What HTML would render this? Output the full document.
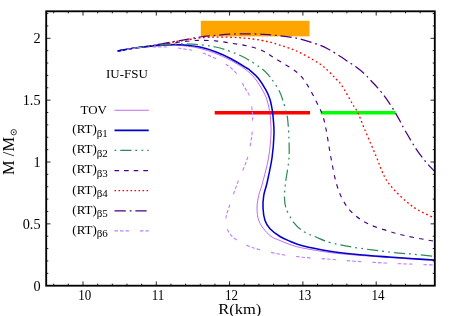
<!DOCTYPE html>
<html><head><meta charset="utf-8"><title>M-R</title>
<style>
html,body{margin:0;padding:0;background:#fff;}
body{width:452px;height:316px;overflow:hidden;}
svg{display:block;font-family:"Liberation Serif",serif;will-change:transform;opacity:0.999;}
.t{font-size:13px;fill:#000;}
.a{font-size:16.5px;fill:#000;}
</style></head><body>
<svg width="452" height="316" viewBox="0 0 452 316">
<rect width="452" height="316" fill="#fff"/>
<rect x="200.8" y="20.8" width="108.7" height="15.6" fill="#ffa500"/>
<path d="M214.7,112.75 H310" stroke="#ff0000" stroke-width="3.3" fill="none"/>
<path d="M320.75,112.75 H395.25" stroke="#00ff00" stroke-width="3.3" fill="none"/>
<clipPath id="c"><rect x="46.2" y="11.3" width="388.6" height="274.4"/></clipPath>
<g clip-path="url(#c)">
<path d="M117.50,51.00 C120.42,50.50 129.58,48.82 135.00,48.00 C140.42,47.18 144.17,46.90 150.00,46.10 C155.83,45.30 163.33,44.05 170.00,43.20 C176.67,42.35 185.00,41.48 190.00,41.00 C195.00,40.52 195.75,40.32 200.00,40.30 C204.25,40.28 210.33,40.42 215.50,40.90 C220.67,41.38 225.82,42.38 231.00,43.20 C236.18,44.02 241.43,44.58 246.60,45.80 C251.77,47.02 257.43,48.52 262.00,50.50 C266.57,52.48 268.25,54.12 274.00,57.70 C279.75,61.28 290.90,67.38 296.50,72.00 C302.10,76.62 304.10,80.07 307.60,85.40 C311.10,90.73 315.02,99.07 317.50,104.00 C319.98,108.93 321.08,110.83 322.50,115.00 C323.92,119.17 324.58,121.83 326.00,129.00 C327.42,136.17 329.29,149.00 331.00,158.00 C332.71,167.00 334.33,176.12 336.25,183.00 C338.17,189.88 339.88,194.33 342.50,199.25 C345.12,204.17 347.75,208.41 352.00,212.50 C356.25,216.59 361.83,220.68 368.00,223.80 C374.17,226.93 382.58,229.22 389.00,231.25 C395.42,233.28 398.92,234.33 406.50,236.00 C414.08,237.67 429.83,240.38 434.50,241.25" stroke="#4b0082" stroke-width="1.15" fill="none" stroke-dasharray="4.4,5.2" stroke-dashoffset="8.52"/>
<path d="M117.50,51.00 C120.42,50.50 129.58,48.83 135.00,48.00 C140.42,47.17 144.17,46.92 150.00,46.00 C155.83,45.08 163.33,43.58 170.00,42.50 C176.67,41.42 185.00,40.27 190.00,39.50 C195.00,38.73 195.75,38.30 200.00,37.90 C204.25,37.50 210.33,37.20 215.50,37.10 C220.67,37.00 225.82,37.10 231.00,37.30 C236.18,37.50 241.43,37.77 246.60,38.30 C251.77,38.83 257.43,39.67 262.00,40.50 C266.57,41.33 268.25,41.55 274.00,43.30 C279.75,45.05 289.05,47.68 296.50,51.00 C303.95,54.32 313.33,59.80 318.70,63.20 C324.07,66.60 325.82,68.77 328.70,71.40 C331.58,74.03 333.87,76.73 336.00,79.00 C338.13,81.27 338.75,80.83 341.50,85.00 C344.25,89.17 349.75,99.33 352.50,104.00 C355.25,108.67 356.00,108.83 358.00,113.00 C360.00,117.17 361.50,121.83 364.50,129.00 C367.50,136.17 372.67,148.04 376.00,156.00 C379.33,163.96 381.58,171.25 384.50,176.75 C387.42,182.25 389.83,184.83 393.50,189.00 C397.17,193.17 402.25,198.17 406.50,201.75 C410.75,205.33 414.33,207.79 419.00,210.50 C423.67,213.21 431.92,216.75 434.50,218.00" stroke="#ff0000" stroke-width="1.3" fill="none" stroke-dasharray="1.8,2.7" stroke-dashoffset="3.27"/>
<path d="M117.50,51.00 C120.42,50.50 129.58,48.83 135.00,48.00 C140.42,47.17 144.17,46.95 150.00,46.00 C155.83,45.05 163.33,43.50 170.00,42.30 C176.67,41.10 185.00,39.68 190.00,38.80 C195.00,37.92 195.75,37.57 200.00,37.00 C204.25,36.43 210.33,35.87 215.50,35.40 C220.67,34.93 225.82,34.47 231.00,34.20 C236.18,33.93 241.43,33.78 246.60,33.80 C251.77,33.82 257.43,34.07 262.00,34.30 C266.57,34.53 268.25,34.55 274.00,35.20 C279.75,35.85 289.05,36.60 296.50,38.20 C303.95,39.80 313.15,42.83 318.70,44.80 C324.25,46.77 326.25,48.10 329.80,50.00 C333.35,51.90 337.13,54.38 340.00,56.20 C342.87,58.02 344.42,59.17 347.00,60.90 C349.58,62.63 352.65,64.50 355.50,66.60 C358.35,68.70 361.63,71.27 364.10,73.50 C366.57,75.73 368.03,77.62 370.30,80.00 C372.57,82.38 374.98,84.62 377.70,87.80 C380.42,90.98 383.75,95.10 386.60,99.10 C389.45,103.10 392.57,108.15 394.80,111.80 C397.03,115.45 398.27,117.85 400.00,121.00 C401.73,124.15 402.58,126.15 405.20,130.70 C407.82,135.25 412.23,143.05 415.70,148.30 C419.17,153.55 422.82,158.33 426.00,162.20 C429.18,166.07 433.33,169.95 434.80,171.50" stroke="#4b0082" stroke-width="1.25" fill="none" stroke-dasharray="11.1,3.8,1.8,3.8" stroke-dashoffset="20.03"/>
<path d="M117.50,51.00 C120.42,50.53 129.58,48.93 135.00,48.20 C140.42,47.47 145.42,47.03 150.00,46.60 C154.58,46.17 158.33,45.82 162.50,45.60 C166.67,45.38 170.83,45.20 175.00,45.30 C179.17,45.40 183.33,45.68 187.50,46.20 C191.67,46.72 195.42,47.23 200.00,48.40 C204.58,49.57 210.00,51.27 215.00,53.20 C220.00,55.13 225.00,57.37 230.00,60.00 C235.00,62.63 240.80,65.87 245.00,69.00 C249.20,72.13 252.20,75.13 255.20,78.80 C258.20,82.47 261.07,87.55 263.00,91.00 C264.93,94.45 265.72,96.27 266.80,99.50 C267.88,102.73 268.90,107.32 269.50,110.40 C270.10,113.48 270.15,114.07 270.40,118.00 C270.65,121.93 271.32,127.33 271.00,134.00 C270.68,140.67 269.92,149.83 268.50,158.00 C267.08,166.17 264.12,176.75 262.50,183.00 C260.88,189.25 259.67,191.33 258.75,195.50 C257.83,199.67 257.00,203.83 257.00,208.00 C257.00,212.17 257.42,216.75 258.75,220.50 C260.08,224.25 262.79,227.75 265.00,230.50 C267.21,233.25 269.92,235.50 272.00,237.00 C274.08,238.50 274.50,238.25 277.50,239.50 C280.50,240.75 285.83,243.08 290.00,244.50 C294.17,245.92 295.83,246.67 302.50,248.00 C309.17,249.33 321.25,251.33 330.00,252.50 C338.75,253.67 345.17,254.17 355.00,255.00 C364.83,255.83 379.17,256.80 389.00,257.50 C398.83,258.20 406.42,258.72 414.00,259.20 C421.58,259.68 431.08,260.20 434.50,260.40" stroke="#a828e4" stroke-width="0.7" fill="none" />
<path d="M117.50,51.00 C120.42,50.50 129.58,48.79 135.00,48.00 C140.42,47.21 145.42,46.75 150.00,46.25 C154.58,45.75 158.33,45.29 162.50,45.00 C166.67,44.71 170.83,44.47 175.00,44.50 C179.17,44.53 183.33,44.77 187.50,45.20 C191.67,45.63 195.33,46.02 200.00,47.10 C204.67,48.18 210.33,49.77 215.50,51.70 C220.67,53.63 225.82,55.98 231.00,58.70 C236.18,61.42 243.35,65.98 246.60,68.00 C249.85,70.02 248.55,69.08 250.50,70.80 C252.45,72.52 255.72,75.07 258.30,78.30 C260.88,81.53 264.05,86.67 266.00,90.20 C267.95,93.73 268.95,96.13 270.00,99.50 C271.05,102.87 271.77,107.32 272.30,110.40 C272.83,113.48 272.92,114.07 273.20,118.00 C273.48,121.93 274.20,127.33 274.00,134.00 C273.80,140.67 273.17,149.83 272.00,158.00 C270.83,166.17 268.38,176.75 267.00,183.00 C265.62,189.25 264.42,191.33 263.75,195.50 C263.08,199.67 262.79,203.83 263.00,208.00 C263.21,212.17 263.83,217.04 265.00,220.50 C266.17,223.96 267.50,226.08 270.00,228.75 C272.50,231.42 276.67,234.42 280.00,236.50 C283.33,238.58 286.25,239.71 290.00,241.25 C293.75,242.79 295.83,244.08 302.50,245.75 C309.17,247.42 321.25,249.83 330.00,251.25 C338.75,252.67 345.17,253.29 355.00,254.25 C364.83,255.21 379.17,256.25 389.00,257.00 C398.83,257.75 406.42,258.25 414.00,258.75 C421.58,259.25 431.08,259.79 434.50,260.00" stroke="#0000cd" stroke-width="1.55" fill="none" />
<path d="M117.50,51.00 C120.42,50.50 129.58,48.82 135.00,48.00 C140.42,47.18 145.00,46.65 150.00,46.10 C155.00,45.55 159.67,45.07 165.00,44.70 C170.33,44.33 176.17,43.89 182.00,43.90 C187.83,43.91 194.42,44.23 200.00,44.75 C205.58,45.27 210.33,45.84 215.50,47.00 C220.67,48.16 225.82,49.75 231.00,51.70 C236.18,53.65 241.43,55.85 246.60,58.70 C251.77,61.55 258.27,65.95 262.00,68.80 C265.73,71.65 267.28,73.93 269.00,75.80 C270.72,77.67 270.58,77.47 272.30,80.00 C274.02,82.53 277.50,87.50 279.30,91.00 C281.10,94.50 281.95,97.50 283.10,101.00 C284.25,104.50 285.47,109.17 286.20,112.00 C286.93,114.83 287.07,114.33 287.50,118.00 C287.93,121.67 288.50,127.33 288.75,134.00 C289.00,140.67 289.54,149.83 289.00,158.00 C288.46,166.17 286.25,176.33 285.50,183.00 C284.75,189.67 284.37,193.67 284.50,198.00 C284.63,202.33 284.72,204.87 286.30,209.00 C287.88,213.13 291.05,219.00 294.00,222.80 C296.95,226.60 300.33,229.43 304.00,231.80 C307.67,234.17 311.67,235.22 316.00,237.00 C320.33,238.78 323.50,240.75 330.00,242.50 C336.50,244.25 345.17,245.92 355.00,247.50 C364.83,249.08 379.17,250.88 389.00,252.00 C398.83,253.12 406.42,253.54 414.00,254.25 C421.58,254.96 431.08,255.92 434.50,256.25" stroke="#2e8b57" stroke-width="1.25" fill="none" stroke-dasharray="11.25,3.75,2,4.25,1.75,4" stroke-dashoffset="11.32"/>
<path d="M117.50,51.00 C119.25,50.70 124.25,49.77 128.00,49.20 C131.75,48.63 134.67,47.98 140.00,47.60 C145.33,47.22 154.38,46.92 160.00,46.90 C165.62,46.88 169.42,47.10 173.70,47.50 C177.98,47.90 181.72,48.65 185.70,49.30 C189.68,49.95 193.67,50.35 197.60,51.40 C201.53,52.45 205.28,53.87 209.30,55.60 C213.32,57.33 218.08,59.73 221.70,61.80 C225.32,63.87 228.02,65.40 231.00,68.00 C233.98,70.60 237.38,74.23 239.60,77.40 C241.82,80.57 242.61,83.83 244.30,87.00 C245.99,90.17 248.47,92.77 249.75,96.40 C251.03,100.03 251.53,105.20 252.00,108.80 C252.47,112.40 252.60,113.80 252.60,118.00 C252.60,122.20 252.85,127.33 252.00,134.00 C251.15,140.67 249.92,149.83 247.50,158.00 C245.08,166.17 240.62,174.67 237.50,183.00 C234.38,191.33 230.67,202.17 228.75,208.00 C226.83,213.83 226.29,214.54 226.00,218.00 C225.71,221.46 225.50,225.29 227.00,228.75 C228.50,232.21 230.75,235.62 235.00,238.75 C239.25,241.88 245.42,245.00 252.50,247.50 C259.58,250.00 269.17,252.13 277.50,253.75 C285.83,255.37 293.75,256.28 302.50,257.20 C311.25,258.12 321.25,258.57 330.00,259.25 C338.75,259.93 345.83,260.62 355.00,261.25 C364.17,261.88 375.17,262.50 385.00,263.00 C394.83,263.50 405.75,263.92 414.00,264.25 C422.25,264.58 431.08,264.88 434.50,265.00" stroke="#c080ff" stroke-width="1.15" fill="none" stroke-dasharray="3.5,2,3.5,2,3.5,11" stroke-dashoffset="15.8"/>

</g>
<path d="M53.68,285.70 v-2.10 M53.68,11.30 v2.10 M68.34,285.70 v-2.10 M68.34,11.30 v2.10 M83.00,285.70 v-4.30 M83.00,11.30 v4.30 M97.66,285.70 v-2.10 M97.66,11.30 v2.10 M112.32,285.70 v-2.10 M112.32,11.30 v2.10 M126.98,285.70 v-2.10 M126.98,11.30 v2.10 M141.64,285.70 v-2.10 M141.64,11.30 v2.10 M156.30,285.70 v-4.30 M156.30,11.30 v4.30 M170.96,285.70 v-2.10 M170.96,11.30 v2.10 M185.62,285.70 v-2.10 M185.62,11.30 v2.10 M200.28,285.70 v-2.10 M200.28,11.30 v2.10 M214.94,285.70 v-2.10 M214.94,11.30 v2.10 M229.60,285.70 v-4.30 M229.60,11.30 v4.30 M244.26,285.70 v-2.10 M244.26,11.30 v2.10 M258.92,285.70 v-2.10 M258.92,11.30 v2.10 M273.58,285.70 v-2.10 M273.58,11.30 v2.10 M288.24,285.70 v-2.10 M288.24,11.30 v2.10 M302.90,285.70 v-4.30 M302.90,11.30 v4.30 M317.56,285.70 v-2.10 M317.56,11.30 v2.10 M332.22,285.70 v-2.10 M332.22,11.30 v2.10 M346.88,285.70 v-2.10 M346.88,11.30 v2.10 M361.54,285.70 v-2.10 M361.54,11.30 v2.10 M376.20,285.70 v-4.30 M376.20,11.30 v4.30 M390.86,285.70 v-2.10 M390.86,11.30 v2.10 M405.52,285.70 v-2.10 M405.52,11.30 v2.10 M420.18,285.70 v-2.10 M420.18,11.30 v2.10 M46.20,273.33 h2.10 M434.80,273.33 h-2.10 M46.20,260.96 h2.10 M434.80,260.96 h-2.10 M46.20,248.59 h2.10 M434.80,248.59 h-2.10 M46.20,236.22 h2.10 M434.80,236.22 h-2.10 M46.20,223.85 h4.30 M434.80,223.85 h-4.30 M46.20,211.48 h2.10 M434.80,211.48 h-2.10 M46.20,199.11 h2.10 M434.80,199.11 h-2.10 M46.20,186.74 h2.10 M434.80,186.74 h-2.10 M46.20,174.37 h2.10 M434.80,174.37 h-2.10 M46.20,162.00 h4.30 M434.80,162.00 h-4.30 M46.20,149.63 h2.10 M434.80,149.63 h-2.10 M46.20,137.26 h2.10 M434.80,137.26 h-2.10 M46.20,124.89 h2.10 M434.80,124.89 h-2.10 M46.20,112.52 h2.10 M434.80,112.52 h-2.10 M46.20,100.15 h4.30 M434.80,100.15 h-4.30 M46.20,87.78 h2.10 M434.80,87.78 h-2.10 M46.20,75.41 h2.10 M434.80,75.41 h-2.10 M46.20,63.04 h2.10 M434.80,63.04 h-2.10 M46.20,50.67 h2.10 M434.80,50.67 h-2.10 M46.20,38.30 h4.30 M434.80,38.30 h-4.30 M46.20,25.93 h2.10 M434.80,25.93 h-2.10 M46.20,13.56 h2.10 M434.80,13.56 h-2.10" stroke="#000" stroke-width="0.85" fill="none"/>
<rect x="46.2" y="11.3" width="388.6" height="274.4" fill="none" stroke="#000" stroke-width="1.85"/>
<text transform="translate(84.80,300.0) scale(1,1.1)" text-anchor="middle" class="t">10</text><text transform="translate(158.10,300.0) scale(1,1.1)" text-anchor="middle" class="t">11</text><text transform="translate(231.40,300.0) scale(1,1.1)" text-anchor="middle" class="t">12</text><text transform="translate(304.70,300.0) scale(1,1.1)" text-anchor="middle" class="t">13</text><text transform="translate(378.00,300.0) scale(1,1.1)" text-anchor="middle" class="t">14</text>
<text transform="translate(40.6,290.60) scale(1,1.0)" text-anchor="end" class="t" style="font-size:14.3px">0</text><text transform="translate(40.6,228.75) scale(1,1.0)" text-anchor="end" class="t" style="font-size:14.3px">0.5</text><text transform="translate(40.6,166.90) scale(1,1.0)" text-anchor="end" class="t" style="font-size:14.3px">1</text><text transform="translate(40.6,105.05) scale(1,1.0)" text-anchor="end" class="t" style="font-size:14.3px">1.5</text><text transform="translate(40.6,43.20) scale(1,1.0)" text-anchor="end" class="t" style="font-size:14.3px">2</text>
<text transform="translate(107,114.30) scale(1,0.97)" text-anchor="end" class="t">TOV</text><path d="M114.5,110.25 H148.75" stroke="#a828e4" stroke-width="0.7" fill="none" /><text transform="translate(72.3,133.25) scale(1,0.97)" class="t">(RT)<tspan dy="3.8" font-size="11">β1</tspan></text><path d="M114.5,130.35 H148.75" stroke="#0000cd" stroke-width="1.55" fill="none" /><text transform="translate(72.3,153.35) scale(1,0.97)" class="t">(RT)<tspan dy="3.8" font-size="11">β2</tspan></text><path d="M114.5,150.45 H148.75" stroke="#2e8b57" stroke-width="1.25" fill="none" stroke-dasharray="11.25,3.75,2,4.25,1.75,4" stroke-dashoffset="21.25"/><text transform="translate(72.3,173.45) scale(1,0.97)" class="t">(RT)<tspan dy="3.8" font-size="11">β3</tspan></text><path d="M114.5,170.55 H148.75" stroke="#4b0082" stroke-width="1.15" fill="none" stroke-dasharray="4.6,5" stroke-dashoffset="0"/><text transform="translate(72.3,193.55) scale(1,0.97)" class="t">(RT)<tspan dy="3.8" font-size="11">β4</tspan></text><path d="M114.5,190.65 H148.75" stroke="#ff0000" stroke-width="1.3" fill="none" stroke-dasharray="1.6,2.4" stroke-dashoffset="0"/><text transform="translate(72.3,213.65) scale(1,0.97)" class="t">(RT)<tspan dy="3.8" font-size="11">β5</tspan></text><path d="M114.5,210.75 H148.75" stroke="#4b0082" stroke-width="1.25" fill="none" stroke-dasharray="11.3,3.9,1.8,3.9" stroke-dashoffset="0"/><text transform="translate(72.3,233.75) scale(1,0.97)" class="t">(RT)<tspan dy="3.8" font-size="11">β6</tspan></text><path d="M114.5,230.85 H148.75" stroke="#c080ff" stroke-width="1.15" fill="none" stroke-dasharray="3.5,2,3.5,2,3.5,11" stroke-dashoffset="0"/>
<text transform="translate(106,78) scale(1,0.97)" class="t">IU-FSU</text>
<text transform="translate(218.3,313.9) scale(1,0.9)" class="a">R(km)</text>
<text transform="translate(14,175) rotate(-90) scale(1,1.0)" class="a">M /M</text>
<circle cx="13.7" cy="132.2" r="2.7" fill="none" stroke="#000" stroke-width="0.75"/><circle cx="13.7" cy="132.2" r="0.75" fill="#000"/>
</svg>
</body></html>
